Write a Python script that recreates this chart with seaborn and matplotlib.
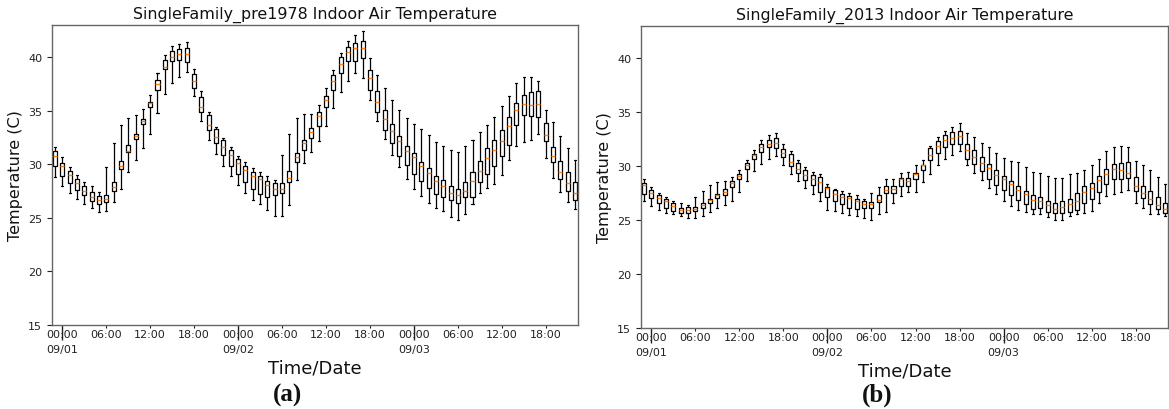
import numpy as np
import pandas as pd
import matplotlib
matplotlib.use("Agg")
import matplotlib.pyplot as plt
import seaborn as sns

# ---------------- data ----------------
hours = list(range(72))
# tick positions (box index) and labels, as placed in the reference
major_pos = [1, 25, 49]
major_labels = ["00:00\n09/01", "00:00\n09/02", "00:00\n09/03"]
minor_pos = [7, 13, 19, 31, 37, 43, 55, 61, 67]
minor_labels = ["06:00", "12:00", "18:00"] * 3

titles = ["SingleFamily_pre1978 Indoor Air Temperature",
          "SingleFamily_2013 Indoor Air Temperature"]
captions = ["(a)", "(b)"]

# Panel (a): SingleFamily_pre1978
a_lo = [28.84, 27.97, 27.28, 26.72, 26.32, 25.95, 25.51, 25.64, 26.44, 27.69, 29.24, 30.39,
        31.48, 32.85, 34.78, 36.55, 37.58, 38.17, 38.63, 36.33, 34.03, 32.26, 30.95, 29.86,
        28.90, 28.09, 27.35, 26.66, 26.26, 25.70, 25.20, 25.20, 26.23, 28.50, 30.08, 31.11,
        32.20, 33.60, 35.27, 36.71, 37.82, 38.48, 38.01, 35.96, 34.00, 32.35, 30.86, 29.74,
        28.62, 27.72, 27.07, 26.38, 25.88, 25.64, 25.04, 24.80, 25.36, 26.29, 27.28, 27.78,
        28.15, 28.99, 30.42, 31.73, 32.04, 32.29, 32.82, 30.58, 28.68, 27.38, 26.44, 25.79]
a_q1 = [29.86, 28.87, 28.25, 27.63, 27.16, 26.60, 26.32, 26.44, 27.47, 29.52, 31.11, 32.32,
        33.72, 35.31, 36.95, 38.88, 39.63, 39.78, 39.57, 37.08, 34.84, 33.19, 31.98, 30.86,
        29.86, 29.09, 28.31, 27.69, 27.25, 26.91, 27.13, 27.28, 28.37, 30.21, 31.29, 32.45,
        33.60, 35.31, 36.95, 38.48, 39.60, 39.60, 39.88, 36.95, 34.84, 33.22, 31.98, 30.80,
        29.93, 29.09, 28.40, 27.81, 27.19, 26.97, 26.66, 26.38, 26.91, 26.91, 28.31, 29.09,
        29.80, 30.74, 31.79, 33.69, 34.62, 34.47, 34.37, 32.13, 30.21, 28.65, 27.53, 26.66]
a_med = [30.73, 29.86, 28.96, 28.22, 27.53, 26.94, 26.66, 26.79, 27.84, 29.83, 31.26, 32.60,
         34.03, 35.71, 37.54, 39.04, 39.97, 40.28, 40.31, 37.73, 35.37, 33.66, 32.51, 31.57,
         30.86, 30.11, 29.46, 28.87, 28.62, 28.06, 27.69, 27.69, 28.75, 30.64, 31.95, 33.04,
         34.47, 36.02, 37.79, 39.35, 40.47, 40.81, 40.90, 38.01, 35.83, 34.19, 33.07, 32.20,
         31.23, 30.64, 29.83, 29.21, 28.40, 28.00, 27.35, 27.10, 27.53, 28.43, 29.40, 30.55,
         31.29, 32.20, 33.60, 35.03, 35.59, 35.49, 35.59, 32.76, 30.73, 29.30, 28.22, 27.28]
a_q3 = [31.20, 30.08, 29.34, 28.65, 28.00, 27.44, 27.00, 27.16, 28.31, 30.27, 31.76, 32.85,
        34.22, 35.83, 37.89, 39.75, 40.62, 40.78, 40.81, 38.42, 36.30, 34.62, 33.28, 32.26,
        31.36, 30.49, 29.80, 29.24, 28.87, 28.47, 28.28, 28.28, 29.34, 31.01, 32.29, 33.35,
        34.84, 36.39, 38.38, 39.97, 40.96, 41.28, 41.50, 38.82, 36.83, 35.06, 33.78, 32.66,
        31.73, 31.01, 30.21, 29.62, 28.87, 28.50, 28.00, 27.66, 28.37, 29.24, 30.33, 31.48,
        32.29, 33.19, 34.37, 35.68, 36.46, 36.77, 36.80, 33.81, 31.57, 30.33, 29.24, 28.31]
a_hi = [31.57, 30.64, 29.77, 28.99, 28.37, 27.94, 27.41, 29.71, 31.98, 33.69, 34.34, 34.56,
        35.12, 36.46, 38.48, 40.16, 41.06, 41.21, 41.40, 38.88, 36.80, 34.84, 33.44, 32.48,
        31.64, 30.80, 30.18, 29.62, 29.24, 28.87, 28.56, 30.89, 32.79, 34.28, 34.71, 34.71,
        35.55, 37.14, 38.79, 40.41, 41.52, 42.08, 42.45, 39.94, 38.38, 37.14, 36.02, 35.09,
        34.28, 33.72, 33.28, 32.76, 32.10, 31.73, 31.29, 31.17, 31.67, 32.29, 32.97, 33.69,
        34.40, 35.40, 36.39, 37.61, 38.17, 38.17, 37.79, 35.09, 33.91, 32.66, 31.54, 30.36]

# Panel (b): SingleFamily_2013
b_lo = [26.73, 26.29, 25.92, 25.67, 25.61, 25.36, 25.18, 25.18, 25.43, 25.80, 26.11, 26.45,
        26.76, 27.60, 28.59, 29.52, 30.23, 30.70, 30.95, 30.14, 29.27, 28.62, 28.00, 27.44,
        26.82, 25.95, 25.89, 25.64, 25.49, 25.36, 25.18, 25.00, 25.55, 25.74, 26.57, 27.22,
        27.60, 27.60, 28.53, 29.30, 30.08, 30.63, 31.07, 31.41, 30.08, 29.36, 28.68, 27.97,
        27.38, 26.73, 26.29, 25.95, 25.80, 25.58, 25.58, 25.27, 25.02, 25.05, 25.42, 25.55,
        25.64, 25.89, 26.60, 27.22, 27.38, 27.60, 27.75, 26.57, 26.11, 25.58, 25.58, 25.36]
b_q1 = [27.47, 27.04, 26.60, 26.17, 25.89, 25.67, 25.67, 25.83, 26.17, 26.63, 27.07, 27.35,
        28.06, 28.84, 29.77, 30.63, 31.32, 31.78, 31.69, 30.82, 30.02, 29.39, 28.68, 28.22,
        27.60, 27.10, 26.76, 26.48, 26.17, 26.05, 26.14, 26.14, 26.67, 27.50, 27.50, 28.15,
        28.12, 28.77, 29.64, 30.57, 31.22, 31.81, 32.03, 32.06, 30.70, 30.17, 29.55, 28.84,
        28.22, 27.75, 27.35, 26.88, 26.51, 26.05, 26.14, 25.80, 25.67, 25.67, 25.80, 25.98,
        26.57, 26.98, 27.60, 28.37, 28.84, 28.84, 28.90, 27.72, 27.04, 26.48, 26.05, 25.67]
b_med = [28.22, 27.53, 27.07, 26.73, 26.29, 25.98, 25.98, 26.05, 26.42, 26.85, 27.29, 27.60,
         28.43, 29.08, 30.08, 31.01, 31.78, 32.09, 32.19, 31.22, 30.39, 29.70, 29.18, 28.81,
         28.50, 27.94, 27.44, 27.13, 27.07, 26.82, 26.51, 26.51, 26.88, 27.84, 27.91, 28.77,
         28.65, 29.30, 30.08, 31.07, 31.88, 32.40, 32.65, 32.77, 31.53, 30.85, 30.29, 29.83,
         29.21, 28.84, 28.37, 27.84, 27.44, 26.88, 26.82, 26.42, 26.05, 26.20, 26.51, 26.82,
         27.60, 27.97, 28.68, 29.30, 29.70, 29.67, 29.36, 28.15, 27.50, 26.94, 26.45, 26.05]
b_q3 = [28.46, 27.75, 27.29, 26.94, 26.60, 26.17, 26.20, 26.26, 26.63, 26.98, 27.41, 27.91,
        28.59, 29.27, 30.26, 31.16, 32.03, 32.46, 32.65, 31.57, 31.13, 30.32, 29.61, 29.21,
        28.99, 28.06, 27.75, 27.38, 27.22, 26.94, 26.76, 26.67, 27.29, 28.12, 28.15, 28.90,
        28.90, 29.40, 30.08, 31.69, 32.34, 32.87, 33.18, 33.27, 32.03, 31.47, 30.85, 30.17,
        29.61, 29.08, 28.59, 28.12, 27.66, 27.35, 27.19, 26.73, 26.57, 26.73, 26.98, 27.50,
        28.12, 28.46, 29.08, 29.70, 30.20, 30.32, 30.39, 28.96, 28.15, 27.72, 27.19, 26.57]
b_hi = [28.77, 28.09, 27.56, 27.19, 26.79, 26.57, 26.42, 27.13, 27.69, 28.28, 28.53, 28.62,
        29.02, 29.61, 30.57, 31.47, 32.43, 32.87, 33.08, 32.09, 31.38, 30.54, 29.89, 29.43,
        29.24, 28.37, 27.91, 27.66, 27.53, 27.29, 26.98, 27.50, 28.06, 28.77, 28.84, 29.40,
        29.46, 30.08, 30.54, 31.84, 32.71, 33.27, 33.64, 33.98, 33.08, 32.71, 32.19, 31.78,
        31.22, 30.76, 30.48, 30.36, 29.92, 29.46, 29.40, 29.12, 28.93, 28.93, 29.24, 29.36,
        29.61, 30.14, 30.63, 31.38, 31.78, 31.88, 31.78, 30.48, 30.14, 29.61, 28.99, 28.37]


def long_frame(lo, q1, med, q3, hi):
    vals = np.column_stack([lo, q1, med, q3, hi])
    return pd.DataFrame({"hour": np.repeat(hours, 5), "temp": vals.ravel()})


frames = [long_frame(a_lo, a_q1, a_med, a_q3, a_hi),
          long_frame(b_lo, b_q1, b_med, b_q3, b_hi)]

# ---------------- styling ----------------
sns.set_style("ticks")
plt.rcParams["font.family"] = ["DejaVu Sans"]
plt.rcParams["text.color"] = "#111111"
plt.rcParams["axes.labelcolor"] = "#111111"
plt.rcParams["xtick.color"] = "#222222"
plt.rcParams["ytick.color"] = "#222222"

fig = plt.figure(figsize=(11.69, 4.10), dpi=100)
positions = [[52 / 1169, 84 / 410, 526 / 1169, 300 / 410],
             [641 / 1169, 81 / 410, 527 / 1169, 302 / 410]]
caption_x = [288 / 1169, 877 / 1169]

for k in range(2):
    ax = fig.add_axes(positions[k])
    sns.boxplot(data=frames[k], x="hour", y="temp", whis=(0, 100), fill=False,
                color="black", width=0.55, linewidth=0.9, showfliers=False,
                medianprops=dict(color="#ff7f0e", linewidth=1.0), ax=ax)
    ax.set_xlim(-0.4, 71.4)
    ax.set_ylim(15, 43)
    ax.set_yticks([15, 20, 25, 30, 35, 40])
    ax.set_xticks(major_pos, major_labels)
    ax.set_xticks(minor_pos, minor_labels, minor=True)
    ax.tick_params(axis="x", which="major", length=11, pad=-8, width=1.0,
                   labelsize=8)
    ax.tick_params(axis="x", which="minor", length=2.5, pad=0.5, width=0.8,
                   labelsize=8)
    ax.tick_params(axis="y", length=3.5, width=0.8, labelsize=8)
    for lab in ax.get_xticklabels(which="both"):
        lab.set_horizontalalignment("center")
        lab.set_linespacing(1.6)
    ax.set_title(titles[k], fontsize=11.4, pad=5)
    ax.set_xlabel("Time/Date", fontsize=13, labelpad=3)
    ax.set_ylabel("Temperature (C)", fontsize=11.5, labelpad=4)
    for sp in ax.spines.values():
        sp.set_visible(True)
        sp.set_color("#666666")
        sp.set_linewidth(1.0)
    fig.text(caption_x[k], 15 / 410, captions[k], ha="center",
             va="center", fontsize=18, fontweight="bold",
             family=["Liberation Serif", "DejaVu Serif"])

fig.savefig("out.png", dpi=100)
